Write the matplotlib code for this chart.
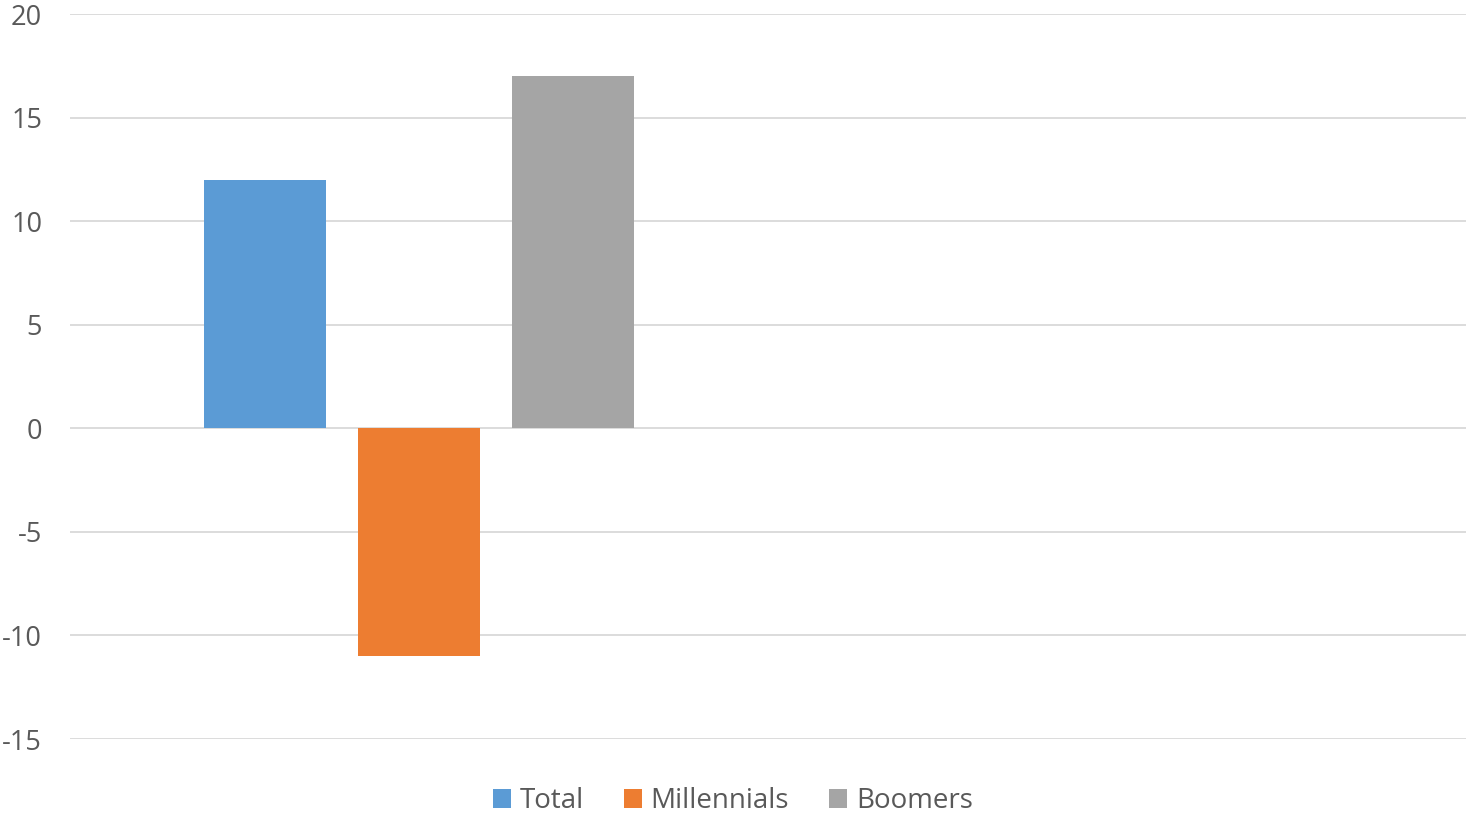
import matplotlib.pyplot as plt
import numpy as np

plt.rcParams['font.family'] = ['Open Sans', 'DejaVu Sans']

# data: two categories, second one is empty
categories = ['', '']
series = ['Total', 'Millennials', 'Boomers']
values = {
    'Total': [12, np.nan],
    'Millennials': [-11, np.nan],
    'Boomers': [17, np.nan],
}
colors = ['#5B9BD5', '#ED7D31', '#A5A5A5']
yticks = [-15, -10, -5, 0, 5, 10, 15, 20]

fig = plt.figure(figsize=(14.66, 8.13), dpi=100)
ax = fig.add_axes([70 / 1466, 1 - 739 / 813, 1 - 70 / 1466, (739 - 14) / 813])

x = np.arange(len(categories))
bar_width = 0.175
step = 0.221

for i, name in enumerate(series):
    ax.bar(x + (i - 1) * step, values[name], width=bar_width,
           color=colors[i], label=name, zorder=3)

ax.set_xlim(-0.5, len(categories) - 0.5)
ax.set_ylim(-15, 20)
ax.set_yticks(yticks)
ax.set_yticklabels([str(t) for t in yticks], fontsize=19.5, color='#595959')
ax.set_xticks([])
ax.grid(axis='y', color='#D9D9D9', linewidth=1.3, zorder=0)
ax.tick_params(axis='y', length=0, pad=20)
for s in ax.spines.values():
    s.set_visible(False)

fig.legend(loc='center', bbox_to_anchor=(0.5, 1 - 801 / 813), ncol=3,
           frameon=False, fontsize=20, labelcolor='#595959',
           handlelength=0.65, handleheight=0.65, handletextpad=0.3,
           columnspacing=1.45)

fig.savefig('out.png', dpi=100)
